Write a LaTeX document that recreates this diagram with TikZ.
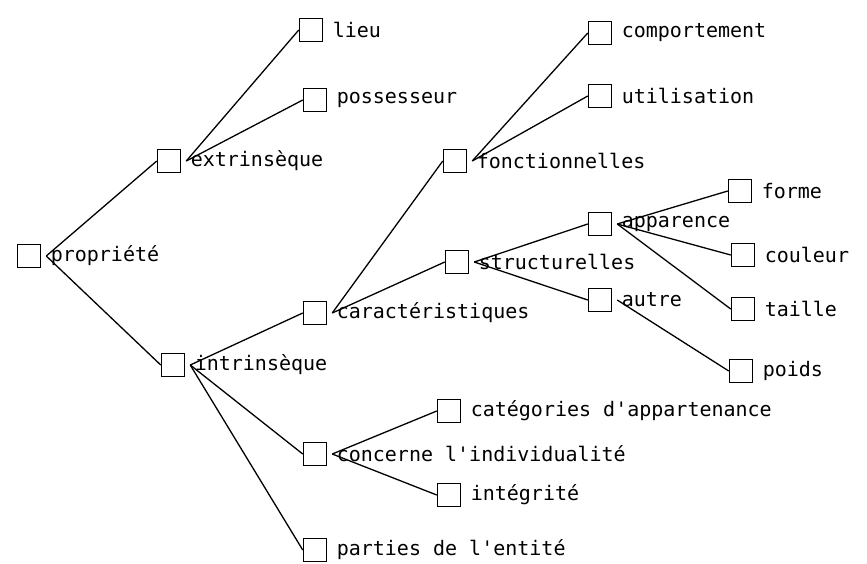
\documentclass[tikz,border=0pt]{standalone}
\usepackage{fontspec}
\setmainfont{DejaVu Sans Mono}
\usepackage{tikz}
\usetikzlibrary{arrows}

\tikzset{
  boite/.style={draw, line width=1.5pt, minimum size=23pt, inner sep=0pt, fill=white},
  etiq/.style={label={[label distance=6pt, font=\fontsize{20}{24}\selectfont]right:#1}}
}

\begin{document}
\begin{tikzpicture}[x=1pt, y=-1pt]
    % cadre
    \useasboundingbox (0,0) rectangle (867,563);
    % les boites
    \node[boite, etiq={propriété}] (prop) at (29,256) {};
    \node[boite, etiq={extrinsèque}] (extr) at (169,161) {};
    \node[boite, etiq={intrinsèque}] (intr) at (173,365) {};
    \node[boite, etiq={lieu}] (lieu) at (311,30) {};
    \node[boite, etiq={possesseur}] (poss) at (315,100) {};
    \node[boite, etiq={caractéristiques}] (cara) at (315,313) {};
    \node[boite, etiq={fonctionnelles}] (fonc) at (455,161) {};
    \node[boite, etiq={comportement}] (comp) at (600,33) {};
    \node[boite, etiq={utilisation}] (util) at (600,96) {};
    \node[boite, etiq={structurelles}] (stru) at (457,262) {};
    \node[boite, etiq={apparence}] (appa) at (600,224) {};
    \node[boite, etiq={autre}] (autr) at (600,300) {};
    \node[boite, etiq={forme}] (form) at (740,191) {};
    \node[boite, etiq={couleur}] (coul) at (743,255) {};
    \node[boite, etiq={taille}] (tail) at (743,309) {};
    \node[boite, etiq={poids}] (poid) at (741,371) {};
    \node[boite, etiq={concerne l\textquotesingle individualité}] (conc) at (315,454) {};
    \node[boite, etiq={catégories d\textquotesingle appartenance}] (cate) at (449,411) {};
    \node[boite, etiq={intégrité}] (inte) at (449,495) {};
    \node[boite, etiq={parties de l\textquotesingle entité}] (part) at (315,550) {};
    %les traits
\begin{scope}[line width=1.3pt]
    \foreach \a/\b in {prop/extr, prop/intr, extr/lieu, extr/poss, intr/cara, intr/conc, intr/part,
        cara/fonc, cara/stru, fonc/comp, fonc/util, stru/appa, stru/autr,
        appa/form, appa/coul, appa/tail, autr/poid, conc/cate, conc/inte}
        \draw ([xshift=5pt]\a.east) -- (\b.west);
\end{scope}
\end{tikzpicture}
\end{document}
